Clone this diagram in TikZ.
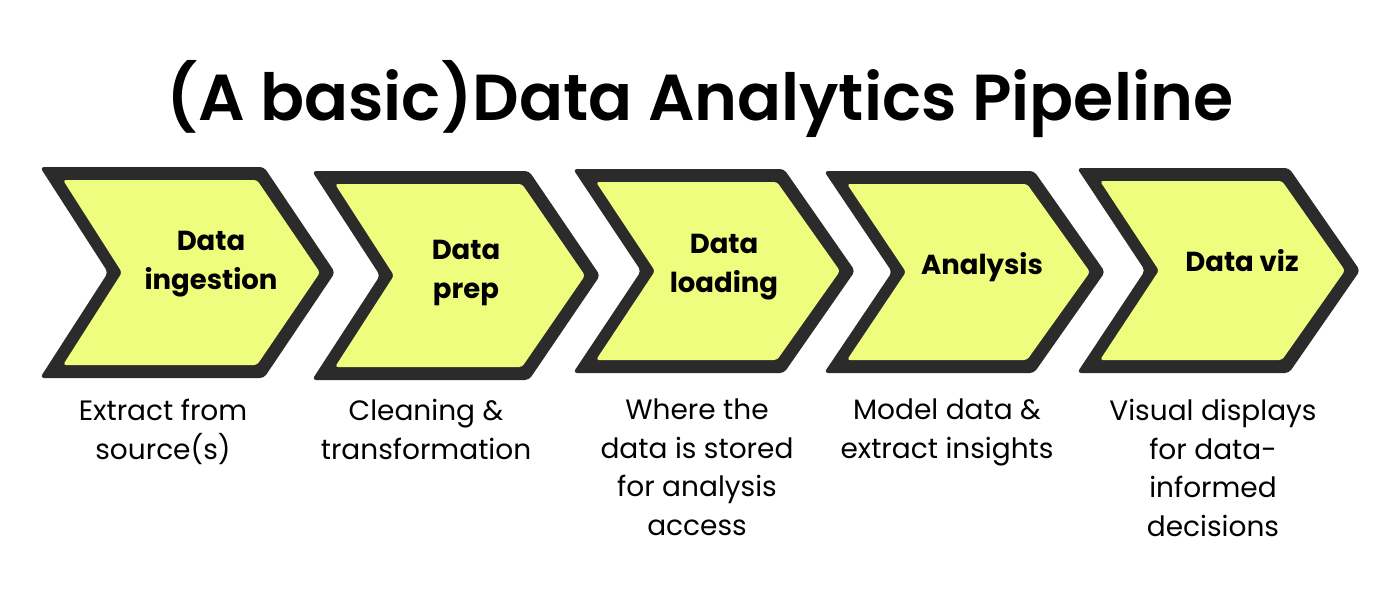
\documentclass[tikz,border=0pt]{standalone}
\usepackage{fontspec}
\setmainfont{Poppins}
\newfontfamily\titlefont{Poppins SemiBold}
\definecolor{chevdark}{HTML}{2B2B2B}
\definecolor{chevyellow}{HTML}{EEFD7D}

\begin{document}
\begin{tikzpicture}
  [x=1pt,y=-1pt,
   outer/.style={fill=chevdark,rounded corners=4pt},
   inner/.style={fill=chevyellow,rounded corners=3pt},
   every node/.style={inner sep=0pt,align=center},
   stage/.style={anchor=north,font=\fontsize{27.5}{39}\selectfont\bfseries},
   note/.style={anchor=north,font=\fontsize{28}{38.5}\selectfont}]
  \useasboundingbox[fill=white] (0,0) rectangle (1400,600);

  \node[font=\titlefont\fontsize{65}{70}\selectfont,anchor=base] (title) at (700,120) {(A basic)Data Analytics Pipeline};

  % chevrons
  \foreach \x/\y/\w/\h in {40/167/295/211,312/171/288/209,573/169/282/204,824/171/281/202,1077/168/283/205}
  {
    \fill[outer] (\x,\y) -- ({\x+\w-71},\y) -- ({\x+\w},{\y+\h/2}) -- ({\x+\w-71},{\y+\h}) -- (\x,{\y+\h}) -- ({\x+68},{\y+\h/2}) -- cycle;
    \fill[inner] ({\x+23},{\y+13}) -- ({\x+\w-78},{\y+13}) -- ({\x+\w-15},{\y+\h/2}) -- ({\x+\w-78},{\y+\h-13}) -- ({\x+23},{\y+\h-13}) -- ({\x+82},{\y+\h/2}) -- cycle;
  }

  \node[stage] (ingest) at (211,231) {Data\\ingestion};
  \node[stage] (prep) at (466,240) {Data\\prep};
  \node[stage] (load) at (724,234) {Data\\loading};
  \node[stage,anchor=base] (analysis) at (982,274) {Analysis};
  \node[stage,anchor=base] (viz) at (1242,271) {Data viz};

  \node[note] (extract) at (163,399) {Extract from\\source(s)};
  \node[note] (clean) at (426,399) {Cleaning \&\\transformation};
  \node[note] (store) at (697,399) {Where the\\data is stored\\for analysis\\access};
  \node[note] (model) at (947,399) {Model data \&\\extract insights};
  \node[note] (visual) at (1213,399) {Visual displays\\for data-\\informed\\decisions};

\end{tikzpicture}
\end{document}
